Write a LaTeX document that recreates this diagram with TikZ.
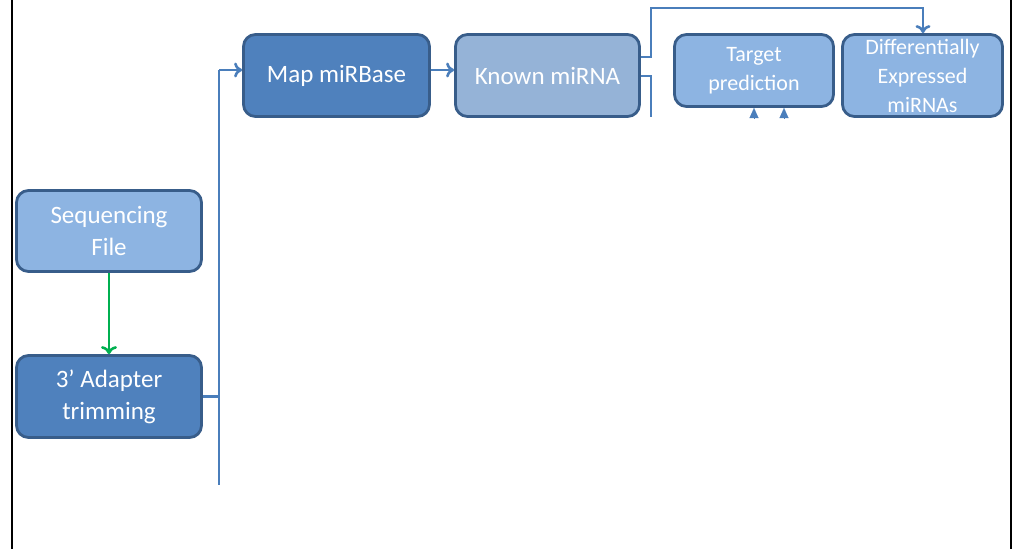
\documentclass[tikz,border=0pt]{standalone}
\usepackage{fontspec}
\setmainfont{Carlito}
\usetikzlibrary{arrows.meta}
\definecolor{darkfill}{HTML}{4F81BD}
\definecolor{midfill}{HTML}{95B3D7}
\definecolor{lightfill}{HTML}{8DB4E2}
\definecolor{edge}{HTML}{385D8A}
\definecolor{conn}{HTML}{4A7EBB}
\definecolor{greenarrow}{HTML}{00B050}
\tikzset{
  box/.style={draw=edge, line width=2.8pt, rounded corners=12pt, inner sep=0pt,
    align=center, text=white, font=\fontsize{25}{32}\selectfont},
  dbox/.style={box, fill=darkfill},
  mbox/.style={box, fill=midfill},
  lbox/.style={box, fill=lightfill},
  smalltext/.style={font=\fontsize{22}{29}\selectfont},
  conline/.style={draw=conn, line width=2.8pt},
  conarrow/.style={conline, -{To[length=8pt,width=15pt,line width=2.6pt]}},
  tiparrow/.style={conn, -{Triangle[length=10pt,width=9pt]}, line width=0.1pt},
  frame/.style={draw=black, line width=2pt}
}
\begin{document}
\begin{tikzpicture}[x=1pt,y=-1pt]
\useasboundingbox (0,0) rectangle (1019,549);
% frame side lines
\coordinate (fl1) at (12,0); \coordinate (fl2) at (12,549);
\coordinate (fr1) at (1011,0); \coordinate (fr2) at (1011,549);
\draw[frame] (fl1) -- (fl2);
\draw[frame] (fr1) -- (fr2);
% nodes
\node[dbox, minimum width=186pt, minimum height=82pt] (map) at (336.5,75.5) {Map miRBase};
\node[mbox, minimum width=184pt, minimum height=82pt] (known) at (547.5,75.5) {Known miRNA};
\node[lbox, smalltext, minimum width=159pt, minimum height=72pt] (target) at (754,70.5) {Target\\prediction};
\node[lbox, smalltext, minimum width=160pt, minimum height=82pt] (diff) at (922.5,75.5) {Differentially\\Expressed\\miRNAs};
\node[lbox, minimum width=185pt, minimum height=81pt] (seq) at (109,231) {Sequencing\\File};
\node[dbox, minimum width=185pt, minimum height=82pt] (adapt) at (109,396.5) {3’ Adapter\\trimming};
% connectors
\draw[greenarrow, line width=2.8pt, -{To[length=8pt,width=16pt,line width=2.6pt]}] (seq.south) -- (adapt.north);
\coordinate (busT) at (219,70);
\coordinate (busB) at (219,485);
\coordinate (busM) at (219,396.5);
\draw[conline] (busT) -- (busB);
\draw[conline] (adapt.east) -- (busM);
\draw[conarrow] (busT) -- (map.west |- busT);
\draw[conarrow] (map.east |- busT) -- (known.west |- busT);
\coordinate (k1) at (651,57);
\coordinate (k2) at (651,8);
\coordinate (k3) at (923,8);
\draw[conarrow] (known.east |- k1) -- (k1) -- (k2) -- (k3) -- (diff.north -| k3);
\coordinate (k4) at (651,76);
\coordinate (k5) at (651,117);
\draw[conline] (known.east |- k4) -- (k4) -- (k5);
% truncated arrows into target prediction
\coordinate (t1s) at (754,118); \coordinate (t1e) at (754,108);
\coordinate (t2s) at (784,118); \coordinate (t2e) at (784,108);
\draw[tiparrow] (t1s) -- (t1e);
\draw[tiparrow] (t2s) -- (t2e);
\end{tikzpicture}
\end{document}
